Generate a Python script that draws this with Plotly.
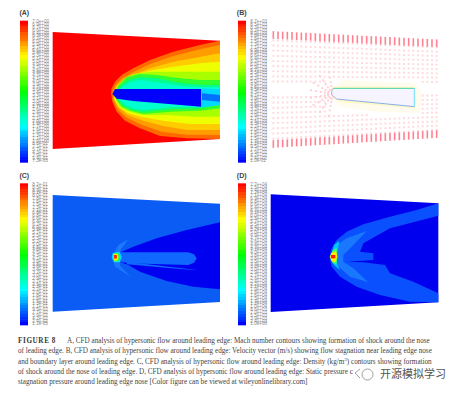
import plotly.graph_objects as go
import numpy as np

W, H = 460, 394
PANEL_W, PANEL_H = 230, 170   # panel coordinates are 3 units per pixel
PANEL_ORIGIN = {"A": (0, 0), "B": (230, 0), "C": (0, 165), "D": (230, 165)}
AXIS = {"A": ("x", "y"), "B": ("x2", "y2"), "C": ("x3", "y3"), "D": ("x4", "y4")}

COLORSCALE = [[0, "#0000ff"], [0.25, "#00ffff"], [0.5, "#00ff00"], [0.75, "#ffff00"], [1, "#ff0000"]]

LEVELS_A = """7.0e+00 6.9e+00 6.7e+00 6.6e+00 6.4e+00 6.3e+00 6.2e+00 6.0e+00 5.9e+00 5.7e+00
5.6e+00 5.4e+00 5.3e+00 5.1e+00 5.0e+00 4.9e+00 4.7e+00 4.6e+00 4.4e+00 4.3e+00
4.1e+00 4.0e+00 3.9e+00 3.7e+00 3.6e+00 3.4e+00 3.3e+00 3.1e+00 3.0e+00 2.9e+00
2.7e+00 2.6e+00 2.4e+00 2.3e+00 2.1e+00 2.0e+00 1.9e+00 1.7e+00 1.6e+00 1.4e+00
1.3e+00 1.1e+00 1.0e+00 8.6e-01 7.1e-01 5.7e-01 4.3e-01 2.9e-01 1.4e-01 7.3e-03""".split()
LEVELS_B = """8.7e+03 8.5e+03 8.3e+03 8.2e+03 8.0e+03 7.8e+03 7.6e+03 7.5e+03 7.3e+03 7.1e+03
6.9e+03 6.8e+03 6.6e+03 6.4e+03 6.2e+03 6.0e+03 5.9e+03 5.7e+03 5.5e+03 5.3e+03
5.2e+03 5.0e+03 4.8e+03 4.6e+03 4.5e+03 4.3e+03 4.1e+03 3.9e+03 3.8e+03 3.6e+03
3.4e+03 3.2e+03 3.0e+03 2.9e+03 2.7e+03 2.5e+03 2.3e+03 2.2e+03 2.0e+03 1.8e+03
1.6e+03 1.5e+03 1.3e+03 1.1e+03 9.5e+02 7.7e+02 5.9e+02 4.2e+02 2.4e+02 1.0e-01""".split()
LEVELS_C = """8.7e-01 8.5e-01 8.3e-01 8.2e-01 8.0e-01 7.8e-01 7.6e-01 7.5e-01 7.3e-01 7.1e-01
6.9e-01 6.8e-01 6.6e-01 6.4e-01 6.2e-01 6.0e-01 5.9e-01 5.7e-01 5.5e-01 5.3e-01
5.2e-01 5.0e-01 4.8e-01 4.6e-01 4.5e-01 4.3e-01 4.1e-01 3.9e-01 3.8e-01 3.6e-01
3.4e-01 3.2e-01 3.0e-01 2.9e-01 2.7e-01 2.5e-01 2.3e-01 2.2e-01 2.0e-01 1.8e-01
1.6e-01 1.5e-01 1.3e-01 1.1e-01 9.5e-02 7.7e-02 5.9e-02 4.2e-02 2.4e-02 1.1e-05""".split()
LEVELS_D = """7.7e+04 7.5e+04 7.4e+04 7.2e+04 7.1e+04 6.9e+04 6.8e+04 6.6e+04 6.4e+04 6.3e+04
6.1e+04 6.0e+04 5.8e+04 5.7e+04 5.5e+04 5.4e+04 5.2e+04 5.0e+04 4.9e+04 4.7e+04
4.6e+04 4.4e+04 4.3e+04 4.1e+04 4.0e+04 3.8e+04 3.6e+04 3.5e+04 3.3e+04 3.2e+04
3.0e+04 2.9e+04 2.7e+04 2.6e+04 2.4e+04 2.2e+04 2.1e+04 1.9e+04 1.8e+04 1.6e+04
1.5e+04 1.3e+04 1.2e+04 1.0e+04 8.6e+03 7.0e+03 5.5e+03 3.9e+03 2.4e+03 1.0e+00""".split()

# --- Panel A: Mach number contours (colour, outline points)
A_DOMAIN = [(158, 96), (660, 122), (660, 417), (158, 447)]
A_BANDS = [
    ("#ff6a00", [(660,122),(600,135),(520,155),(450,180),(400,205),(365,225),(345,245),(335,265),(333,280),(337,305),(350,335),(375,362),(420,385),(480,408),(560,415),(660,417)]),
    ("#ff9c00", [(660,135),(600,148),(520,168),(450,192),(400,216),(365,236),(347,254),(338,275),(340,300),(352,328),(378,352),(425,374),(485,395),(560,404),(660,405)]),
    ("#ffcc00", [(660,160),(600,170),(520,185),(450,205),(400,224),(370,240),(350,258),(340,278),(343,300),(355,322),(382,345),(430,362),(490,378),(560,390),(660,390)]),
    ("#eeff00", [(660,185),(600,190),(520,200),(450,212),(400,226),(372,240),(352,258),(341,280),(345,302),(358,322),(385,340),(430,352),(490,362),(570,372),(660,372)]),
    ("#a8ff00", [(660,215),(600,215),(520,215),(450,215),(400,222),(372,236),(352,258),(343,280),(348,302),(360,322),(388,335),(430,345),(500,345),(580,350),(660,350)]),
    ("#30ff30", [(660,240),(600,240),(540,235),(470,225),(420,222),(380,232),(356,256),(345,280),(350,300),(365,320),(392,332),(430,342),(510,335),(600,332),(660,325)]),
    ("#00ff90", [(660,255),(610,255),(540,248),(470,235),(420,232),(385,240),(358,262),(347,280),(352,298),(370,318),(395,330),(430,335),(510,328),(600,325),(660,315)]),
    ("#00ffd0", [(660,262),(610,262),(550,258),(470,248),(420,240),(385,248),(360,265),(350,282),(355,296),(375,315),(400,325),(430,330),(520,320),(605,322),(660,312)]),
    ("#00d8ff", [(603,265),(660,268),(660,315),(603,322)]),
    ("#0070ff", [(606,280),(660,285),(660,305),(606,300)]),
    ("#0000ff", [(345,267),(603,267),(603,320),(400,303),(350,296),(337,282)]),
]

# --- Panel B: velocity vectors on the mesh
B_STATIONS = [130,144,158,172,186,200,214,228,242,256,270,284,298,312,326,340,354,368,382,396,410,424,438,452,466,480,494,508,522,536,550,564,578,592,606,620]
B_ROWS = [0.07,0.115,0.16,0.205,0.25,0.295,0.34,0.385,0.43,0.57,0.615,0.66,0.705,0.75,0.795,0.84,0.885,0.93]
B_TOP_EDGE = [(130, 97), (625, 122)]
B_BOTTOM_EDGE = [(130, 440), (625, 410)]
B_NOSE = (308, 282)
B_RADII = [14, 24, 36, 50, 66]
B_ANGLES = [100, 125, 150, 170, 190, 210, 235, 260]
B_HALO = [
    ("#fffcee", [(305,262),(340,240),(555,250),(575,280),(570,340),(440,335),(330,320),(300,290)]),
    ("#fff7c8", [(308,262),(340,258),(555,261),(556,270),(556,325),(440,316),(330,306),(303,290)]),
]
B_BODY = [(310,265),(553,265),(553,320),(320,297),(305,285),(305,275)]
B_BODY_EDGES = [
    ("#40d8a0", [(305,275),(310,265),(553,265)]),
    ("#88b0e8", [(320,297),(553,320)]),
    ("#70e0ff", [(553,265),(553,320)]),
    ("#b8a8e8", [(305,275),(305,285),(320,297)]),
]

# --- Panel C: density contours
C_DOMAIN = [(158, 90), (660, 116), (660, 411), (158, 440)]
C_REGIONS = [
    ("#0000f0", [(660,172),(560,195),(470,220),(400,245),(362,262),(362,292),(385,300),(420,320),(500,348),(580,365),(660,373)]),
    ("#1c78ff", [(385,222),(355,240),(337,275),(345,305),(392,335),(362,305),(355,280),(362,255)]),
    ("#1068ff", [(360,262),(565,262),(582,268),(590,280),(582,293),(565,300),(430,296),(362,292)]),
    ("#1068ff", [(380,290),(597,316),(540,312),(430,302),(380,298)]),
    ("#00e0ff", [(338,264),(358,260),(365,275),(360,292),(342,292),(335,278)]),
    ("#30ff30", [(340,266),(354,263),(359,276),(355,289),(342,289)]),
    ("#ffee00", [(341,267),(352,266),(355,277),(351,287),(342,286)]),
    ("#ff2000", [(342,270),(350,270),(351,280),(343,281)]),
]

# --- Panel D: static pressure contours
D_DOMAIN = [(122, 88), (625, 115), (625, 412), (122, 441)]
D_REGIONS = [
    ("#0a50ff", [(625,115),(560,135),(480,155),(400,178),(350,200),(320,225),(305,250),(298,275),(305,305),(330,335),(380,365),(450,390),(540,410),(625,412),(625,385),(550,350),(480,325),(465,300),(400,292),(350,290),(430,285),(430,265),(390,260),(400,235),(480,190),(625,152)]),
    ("#1a78ff", [(410,198),(350,220),(320,240),(308,265),(320,300),(360,335),(415,352),(370,310),(340,290),(340,270),(370,240)]),
    ("#00c8ff", [(312,240),(328,228),(322,262),(320,295),(330,315),(312,300),(303,275)]),
    ("#40ff60", [(308,255),(320,250),(322,275),(320,296),(308,295),(301,275)]),
    ("#ffee00", [(304,264),(318,258),(322,275),(316,292),(304,288),(300,275)]),
    ("#ff2000", [(303,270),(316,270),(316,280),(303,280)]),
]

PANEL_LABELS = {"A": (73, 40), "B": (35, 40), "C": (73, 35), "D": (35, 35)}
BARS = {"A": (60, 84, 62, 488, 97, LEVELS_A), "B": (24, 48, 62, 488, 61, LEVELS_B),
        "C": (60, 84, 55, 482, 97, LEVELS_C), "D": (24, 48, 55, 482, 61, LEVELS_D)}

CAPTION_LINES = [
    "A, CFD analysis of hypersonic flow around leading edge: Mach number contours showing formation of shock around the nose",
    "of leading edge. B, CFD analysis of hypersonic flow around leading edge: Velocity vector (m/s) showing flow stagnation near leading edge nose",
    "and boundary layer around leading edge. C, CFD analysis of hypersonic flow around leading edge: Density (kg/m<sup>3</sup>) contours showing formation",
    "of shock around the nose of leading edge. D, CFD analysis of hypersonic flow around leading edge: Static pressure c",
    "stagnation pressure around leading edge nose [Color figure can be viewed at wileyonlinelibrary.com]",
]
CAPTION_Y = [340.7, 351, 361.4, 371.6, 381.7]
FIGURE_LABEL = "F\u200aI\u200aG\u200aU\u200aR\u200aE\u2009\u20098"
WATERMARK = "开源模拟学习"

fig = go.Figure()


def poly(panel, pts, color, line=None, width=0):
    xs = [p[0] for p in pts] + [pts[0][0]]
    ys = [p[1] for p in pts] + [pts[0][1]]
    xa, ya = AXIS[panel]
    fig.add_trace(go.Scatter(x=xs, y=ys, xaxis=xa, yaxis=ya, mode="lines", fill="toself", fillcolor=color,
                             line=dict(color=line or color, width=width), hoverinfo="skip", showlegend=False))


def dots(panel, xs, ys, color, size, symbol="square", lw=0):
    xa, ya = AXIS[panel]
    fig.add_trace(go.Scatter(x=xs, y=ys, xaxis=xa, yaxis=ya, mode="markers",
                             marker=dict(color=color, size=size, symbol=symbol, line=dict(color=color, width=lw)),
                             hoverinfo="skip", showlegend=False))


# colour bars + level labels
for panel, (x0, x1, y0, y1, lx, labels) in BARS.items():
    xa, ya = AXIS[panel]
    vals = [float(s) for s in labels]
    step = (y1 - y0) / len(vals)
    cy = [y0 + (i + 0.5) * step for i in range(len(vals))]
    fig.add_trace(go.Heatmap(z=[[v] for v in vals], x0=(x0 + x1) / 2, dx=x1 - x0, y=cy, xaxis=xa, yaxis=ya,
                             colorscale=COLORSCALE, zmin=min(vals), zmax=max(vals), showscale=False, hoverinfo="skip"))
    fig.add_trace(go.Scatter(x=[lx] * len(vals), y=cy, xaxis=xa, yaxis=ya, mode="text", text=labels,
                             textposition="middle right",
                             textfont=dict(family="Liberation Sans", size=4.6, color="#8a8a8a"),
                             hoverinfo="skip", showlegend=False))

# Panel A
poly("A", A_DOMAIN, "#ff0000")
for color, pts in A_BANDS:
    poly("A", pts, color)

# Panel B
for color, pts in B_HALO:
    poly("B", pts, color)
poly("B", B_BODY, "#f6f4ff")
for color, pts in B_BODY_EDGES:
    fig.add_trace(go.Scatter(x=[p[0] for p in pts], y=[p[1] for p in pts], xaxis="x2", yaxis="y2", mode="lines",
                             line=dict(color=color, width=1), hoverinfo="skip", showlegend=False))

st = np.array(B_STATIONS, dtype=float)
f = (st - B_TOP_EDGE[0][0]) / (B_TOP_EDGE[1][0] - B_TOP_EDGE[0][0])
top_y = B_TOP_EDGE[0][1] + f * (B_TOP_EDGE[1][1] - B_TOP_EDGE[0][1])
bot_y = B_BOTTOM_EDGE[0][1] + f * (B_BOTTOM_EDGE[1][1] - B_BOTTOM_EDGE[0][1])
mx, my = [], []
for r in B_ROWS:
    for sx, t, b in zip(st, top_y, bot_y):
        y = t + r * (b - t)
        if 295 < sx < 575 and 235 < y < 345:
            continue
        mx.append(sx)
        my.append(y)
dots("B", mx, my, "#ffdadf", 2)
nx, ny = [], []
for rad in B_RADII:
    for ang in B_ANGLES:
        nx.append(B_NOSE[0] + rad * np.cos(np.radians(ang)))
        ny.append(B_NOSE[1] - rad * np.sin(np.radians(ang)))
dots("B", nx, ny, "#ffd0d8", 2)
dots("B", list(st), list(top_y + 8), "#ff8090", 5.5, symbol="line-ns", lw=1.6)
dots("B", list(st), list(bot_y - 8), "#ff8090", 5.5, symbol="line-ns", lw=1.6)

# Panel C
poly("C", C_DOMAIN, "#0a5cf5")
for color, pts in C_REGIONS:
    poly("C", pts, color)

# Panel D
poly("D", D_DOMAIN, "#0000ee")
for color, pts in D_REGIONS:
    poly("D", pts, color)

# Panel letters
for panel, (lx, ly) in PANEL_LABELS.items():
    xa, ya = AXIS[panel]
    fig.add_trace(go.Scatter(x=[lx], y=[ly], xaxis=xa, yaxis=ya, mode="text", text=[f"<b>({panel})</b>"],
                             textfont=dict(family="Liberation Sans", size=7, color="#444444"),
                             hoverinfo="skip", showlegend=False))

layout = dict(width=W, height=H, margin=dict(l=0, r=0, t=0, b=0), paper_bgcolor="white", plot_bgcolor="rgba(0,0,0,0)",
              showlegend=False)
for i, (panel, (ox, oy)) in enumerate(PANEL_ORIGIN.items()):
    s = "" if i == 0 else str(i + 1)
    common = dict(visible=False, fixedrange=True)
    layout[f"xaxis{s}"] = dict(domain=[ox / W, (ox + PANEL_W) / W], range=[0, PANEL_W * 3], anchor=f"y{s}", **common)
    layout[f"yaxis{s}"] = dict(domain=[1 - (oy + PANEL_H) / H, 1 - oy / H], range=[PANEL_H * 3, 0], anchor=f"x{s}", **common)
fig.update_layout(**layout)


def page_text(x, y, text, **font):
    fig.add_annotation(xref="paper", yref="paper", x=x / W, y=1 - y / H, text=text, showarrow=False,
                       xanchor="left", yanchor="middle", borderpad=0, font=font)


page_text(16.5, CAPTION_Y[0], f"<b>{FIGURE_LABEL}</b>", family="Liberation Serif", size=7.2, color="#3a3a3a")
page_text(65.6, CAPTION_Y[0], CAPTION_LINES[0], family="Liberation Serif", size=7.17, color="#444444")
for line, y in zip(CAPTION_LINES[1:], CAPTION_Y[1:]):
    page_text(16.5, y, line, family="Liberation Serif", size=7.17, color="#444444")
page_text(379, 373, WATERMARK, family="Noto Sans CJK SC", size=11, color="#555555")

fig.add_shape(type="circle", xref="paper", yref="paper", x0=362 / W, x1=373 / W, y0=1 - 380 / H, y1=1 - 369 / H,
              line=dict(color="#888888", width=0.8))
fig.add_shape(type="path", xref="paper", yref="paper",
              path=f"M {360/W} {1-369/H} L {355/W} {1-373/H} L {360/W} {1-378/H}",
              line=dict(color="#888888", width=0.8))

fig.write_html("out.html", config=dict(displayModeBar=False),
               post_script="document.body.style.margin='0';document.documentElement.style.overflow='hidden';")
